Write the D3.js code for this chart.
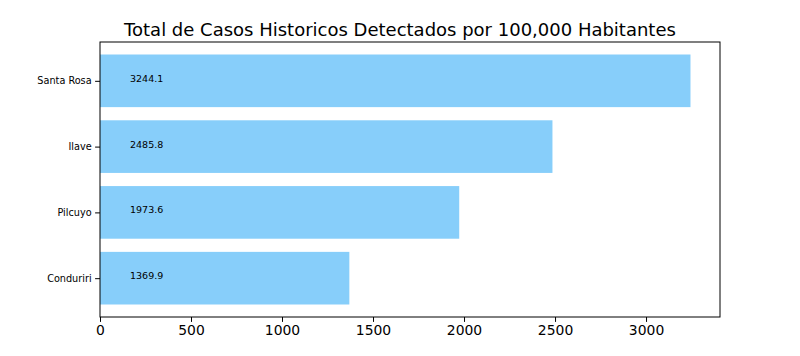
<!DOCTYPE html>
<html>
<head>
<meta charset="utf-8">
<script src="https://cdn.jsdelivr.net/npm/d3@7"></script>
<style>
  body { margin: 0; background: #fff; }
  text { font-family: "DejaVu Sans", sans-serif; }
</style>
</head>
<body>
<div id="chart"></div>
<script>
// datos
const distritos = ["Santa Rosa", "Ilave", "Pilcuyo", "Conduriri"]
const casos = [3244.1, 2485.8, 1973.6, 1369.9]
const xTicks = [0, 500, 1000, 1500, 2000, 2500, 3000]

const WIDTH = 800
const HEIGHT = 356
const margin = { top: 42, right: 80, bottom: 39, left: 100 }
const w = WIDTH - margin.left - margin.right
const h = HEIGHT - margin.top - margin.bottom

const svg = d3.select("#chart").append("svg")
  .attr("width", WIDTH).attr("height", HEIGHT)

const g = svg.append("g").attr("transform", `translate(${margin.left},${margin.top})`)

// escala x con margen de 5% como matplotlib
const xMax = d3.max(casos) * 1.05
const x = d3.scaleLinear().domain([0, xMax]).range([0, w])

// y: indice 0 abajo, barras de alto 0.8
const n = distritos.length
const y = d3.scaleLinear().domain([-0.59, n - 1 + 0.59]).range([h, 0])
const idx = d => n - 1 - distritos.indexOf(d)  // Santa Rosa arriba

g.selectAll("rect.bar")
  .data(distritos)
  .enter()
  .append("rect")
  .attr("class", "bar")
  .attr("x", x(0))
  .attr("y", d => y(idx(d) + 0.4))
  .attr("width", (d, i) => x(casos[i]) - x(0))
  .attr("height", y(-0.4) - y(0.4))
  .attr("fill", "#87cefa")

// etiquetas de valor
g.selectAll("text.val")
  .data(distritos)
  .enter()
  .append("text")
  .attr("class", "val")
  .attr("x", x(165))
  .attr("y", d => y(idx(d)) + 1)
  .attr("font-size", "9.5px")
  .text((d, i) => casos[i].toFixed(1))

// ejes
const xAxis = g.append("g")
  .attr("transform", `translate(0,${h})`)
  .call(d3.axisBottom(x).tickValues(xTicks).tickSize(4.9).tickPadding(3.5).tickFormat(d3.format("d")))
xAxis.selectAll("text").attr("font-size", "13.9px").attr("fill", "#000")
xAxis.select(".domain").remove()

const yAxis = g.append("g")
  .call(d3.axisLeft(y).tickValues(d3.range(n)).tickSize(4.9).tickPadding(3.5)
    .tickFormat(v => distritos[n - 1 - v]))
yAxis.selectAll("text").attr("font-size", "9.7px").attr("fill", "#000")
yAxis.select(".domain").remove()

// marco
g.append("rect")
  .attr("width", w).attr("height", h)
  .attr("fill", "none").attr("stroke", "#000").attr("stroke-width", 1)

// titulo (centrado en la figura)
svg.append("text")
  .attr("x", WIDTH / 2)
  .attr("y", 35.5)
  .attr("text-anchor", "middle")
  .attr("font-size", "18px")
  .text("Total de Casos Historicos Detectados por 100,000 Habitantes")
</script>
</body>
</html>
